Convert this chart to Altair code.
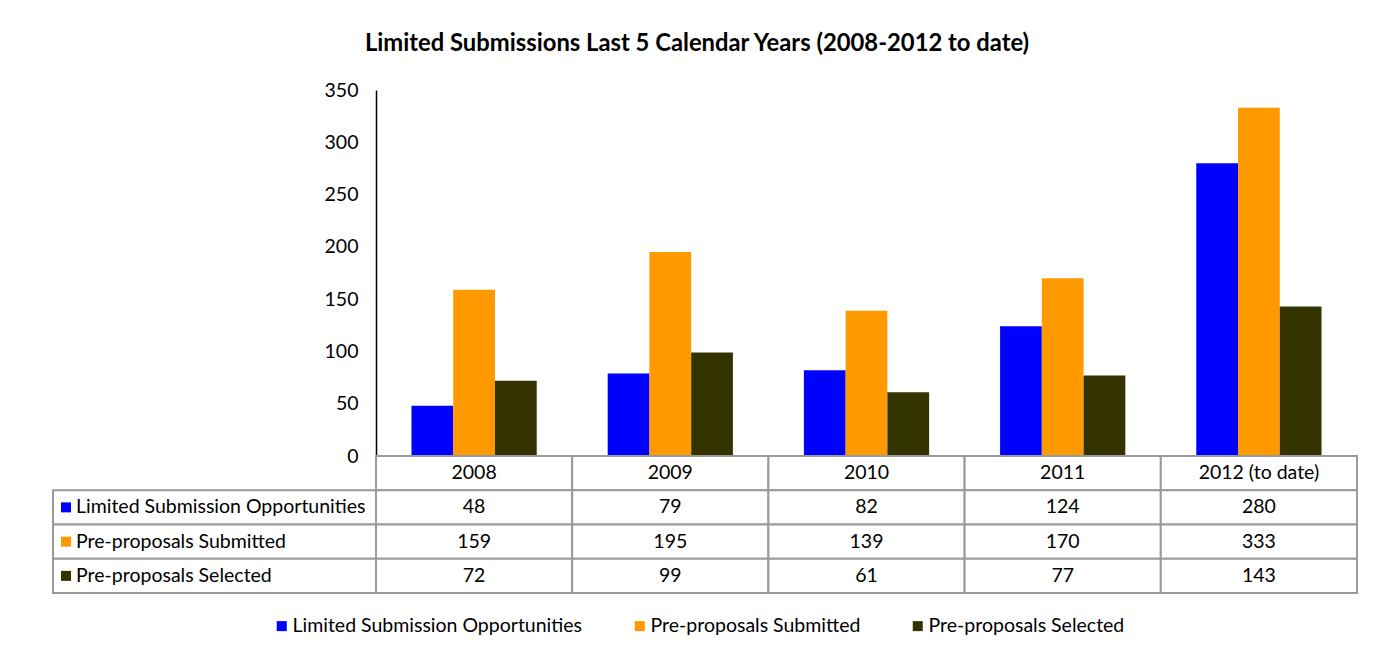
import altair as alt
import pandas as pd

years = ["2008", "2009", "2010", "2011", "2012 (to date)"]
series = ["Limited Submission Opportunities", "Pre-proposals Submitted", "Pre-proposals Selected"]
opportunities = [48, 79, 82, 124, 280]
submitted = [159, 195, 139, 170, 333]
selected = [72, 99, 61, 77, 143]
colors = ["#0000FF", "#FF9900", "#333300"]
y_ticks = [0, 50, 100, 150, 200, 250, 300, 350]
title_text = "Limited Submissions Last 5 Calendar Years (2008-2012 to date)"

FONT = "Lato"
FS = 19.5
GRID = "#9a9a9a"

rows = []
for s, vals in zip(series, [opportunities, submitted, selected]):
    for yr, v in zip(years, vals):
        rows.append({"year": yr, "series": s, "value": v, "row": s, "text": str(v)})
df = pd.DataFrame(rows)
hdr = pd.DataFrame({"year": years, "row": "header", "text": years})
table_df = pd.concat([hdr, df[["year", "row", "text"]]], ignore_index=True)
label_df = pd.DataFrame({"series": series, "row": series, "col": "label"})
row_domain = ["header"] + series

color_scale = alt.Scale(domain=series, range=colors)

bars = alt.Chart(df).mark_bar().encode(
    x=alt.X("year:N",
            scale=alt.Scale(domain=years, range=[323, 1304], paddingInner=0, paddingOuter=0),
            axis=alt.Axis(labels=False, ticks=False, domain=True, domainColor="black",
                          domainWidth=1.5, grid=False, title=None)),
    xOffset=alt.XOffset("series:N", scale=alt.Scale(domain=series, paddingInner=0, paddingOuter=0.85)),
    y=alt.Y("value:Q", scale=alt.Scale(domain=[0, 350]),
            axis=alt.Axis(values=y_ticks, offset=-323, ticks=False, grid=False,
                          domainColor="black", domainWidth=1.5, labelPadding=18,
                          labelFont=FONT, labelFontSize=FS, labelColor="black", title=None)),
    color=alt.Color("series:N", scale=color_scale,
                    legend=alt.Legend(orient="none", legendX=219, legendY=526,
                                      direction="horizontal", columns=3, title=None,
                                      symbolType="square", symbolSize=100, symbolStrokeWidth=0,
                                      labelFont=FONT, labelFontSize=FS, labelColor="black",
                                      columnPadding=47, labelLimit=600, labelOffset=1)),
).properties(width=1304, height=366)

ly = alt.Y("row:N", scale=alt.Scale(domain=row_domain, paddingInner=0, paddingOuter=0), axis=None)
lx_scale = alt.Scale(domain=["label"], paddingInner=0, paddingOuter=0)

lab_rect = alt.Chart(label_df).mark_rect(fill="white", stroke=GRID, strokeWidth=2).encode(
    x=alt.X("col:N", scale=lx_scale, axis=None), y=ly)
lab_sq = alt.Chart(label_df).mark_square(size=100, xOffset=13, opacity=1).encode(
    x=alt.X("col:N", scale=lx_scale, axis=None, bandPosition=0), y=ly,
    color=alt.Color("series:N", scale=color_scale, legend=None))
lab_txt = alt.Chart(label_df).mark_text(align="left", baseline="middle", dx=23, font=FONT,
                                         fontSize=FS, color="black").encode(
    x=alt.X("col:N", scale=lx_scale, axis=None, bandPosition=0), y=ly, text="series:N")
label_chart = alt.layer(lab_rect, lab_sq, lab_txt).properties(width=323, height=137)

tx = alt.X("year:N", scale=alt.Scale(domain=years, paddingInner=0, paddingOuter=0), axis=None)
tab_rect = alt.Chart(table_df).mark_rect(fill="white", stroke=GRID, strokeWidth=2).encode(x=tx, y=ly)
tab_txt = alt.Chart(table_df).mark_text(baseline="middle", font=FONT, fontSize=FS, color="black").encode(
    x=tx, y=ly, text="text:N")
table_chart = alt.layer(tab_rect, tab_txt).properties(width=981, height=137)

chart = alt.vconcat(
    bars,
    alt.hconcat(label_chart, table_chart, spacing=0, bounds="flush"),
    spacing=0, bounds="flush",
).properties(
    title=alt.TitleParams(title_text, font=FONT, fontSize=23.8, fontWeight="bold",
                          anchor="middle", color="black", offset=24, dx=-8),
    padding={"left": 44, "top": 24, "right": 24, "bottom": 14},
    background="white",
).configure_view(stroke=None)

chart.save("out.html", embed_options={"renderer": "svg", "actions": False})
